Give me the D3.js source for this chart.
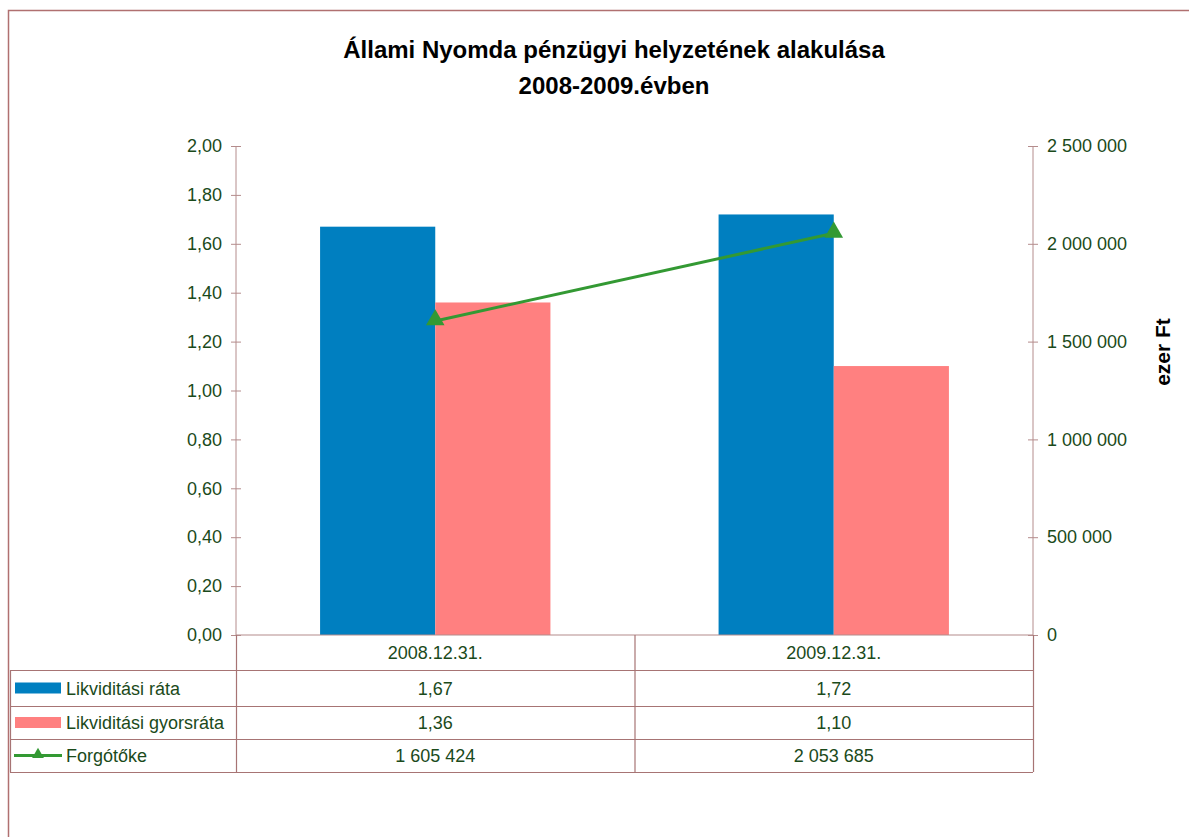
<!DOCTYPE html>
<html>
<head>
<meta charset="utf-8">
<title>Állami Nyomda</title>
<script src="https://cdn.jsdelivr.net/npm/d3@7"></script>
<style>
  body { margin: 0; background: #fff; }
  text { font-family: "Liberation Sans", Arial, sans-serif; }
</style>
</head>
<body>
<script>
// data
var categories = ["2008.12.31.", "2009.12.31."];
var rata = [1.67, 1.72];
var gyorsrata = [1.36, 1.10];
var forgotoke = [1605424, 2053685];
var seriesNames = ["Likviditási ráta", "Likviditási gyorsráta", "Forgótőke"];
var leftTicks = [0, 0.2, 0.4, 0.6, 0.8, 1.0, 1.2, 1.4, 1.6, 1.8, 2.0];
var rightTicks = [0, 500000, 1000000, 1500000, 2000000, 2500000];

var W = 1189, H = 837;
var textCol = "#1b4a1b", lineCol = "#a77474", axisCol = "#b48c8c";
var blue = "#007fc0", pink = "#ff8080", green = "#339933";
var fs = 18;

var loc = d3.formatLocale({decimal: ",", thousands: "\u00a0", grouping: [3], currency: ["", ""]});
var fmt2 = loc.format(".2f"), fmtInt = loc.format(",d");

var svg = d3.select("body").append("svg").attr("width", W).attr("height", H);

// outer frame
svg.append("path").attr("d", "M8.5," + H + "V10.5H" + W)
  .attr("fill", "none").attr("stroke", "#b07070").attr("stroke-width", 1.5);

// title
var title = svg.append("text").attr("x", 614).attr("text-anchor", "middle")
  .attr("font-weight", "bold").attr("font-size", 24).attr("fill", "#000");
title.append("tspan").attr("x", 614).attr("y", 58).text("Állami Nyomda pénzügyi helyzetének alakulása");
title.append("tspan").attr("x", 614).attr("y", 94).text("2008-2009.évben");

var pLeft = 236, pRight = 1033, pTop = 146, pBottom = 635;

var x = d3.scaleBand().domain(categories).range([pLeft, pRight]).paddingInner(0).paddingOuter(0);
var xs = d3.scaleBand().domain([0, 1]).range([0, x.bandwidth()]).paddingOuter(0.73).paddingInner(0);
var yL = d3.scaleLinear().domain([0, 2]).range([pBottom, pTop]);
var yR = d3.scaleLinear().domain([0, 2500000]).range([pBottom, pTop]);

// bars
var g = svg.append("g");
categories.forEach(function(c, i) {
  g.append("rect").attr("x", x(c) + xs(0)).attr("width", xs.bandwidth())
    .attr("y", yL(rata[i])).attr("height", pBottom - yL(rata[i])).attr("fill", blue);
  g.append("rect").attr("x", x(c) + xs(1)).attr("width", xs.bandwidth())
    .attr("y", yL(gyorsrata[i])).attr("height", pBottom - yL(gyorsrata[i])).attr("fill", pink);
});

// left axis
var axL = svg.append("g").attr("transform", "translate(" + pLeft + ",0)")
  .call(d3.axisLeft(yL).tickValues(leftTicks).tickFormat(fmt2).tickSize(5).tickPadding(9));
axL.select(".domain").remove();
axL.append("line").attr("y1", pTop).attr("y2", pBottom).attr("stroke", axisCol);
axL.selectAll(".tick line").attr("x1", -5).attr("x2", 5).attr("stroke", axisCol);
axL.selectAll(".tick text").attr("font-size", fs).attr("fill", textCol)
  .style("font-family", "'Liberation Sans', Arial, sans-serif");

// right axis
var axR = svg.append("g").attr("transform", "translate(" + pRight + ",0)")
  .call(d3.axisRight(yR).tickValues(rightTicks).tickFormat(fmtInt).tickSize(5).tickPadding(9));
axR.select(".domain").remove();
axR.append("line").attr("y1", pTop).attr("y2", pBottom).attr("stroke", axisCol);
axR.selectAll(".tick line").attr("x1", -5).attr("x2", 5).attr("stroke", axisCol);
axR.selectAll(".tick text").attr("font-size", fs).attr("fill", textCol)
  .style("font-family", "'Liberation Sans', Arial, sans-serif");

svg.append("text").attr("transform", "translate(1170,352) rotate(-90)")
  .attr("text-anchor", "middle").attr("font-weight", "bold").attr("font-size", 21)
  .attr("fill", "#000").text("ezer Ft");

// line series
var lineGen = d3.line().x(function(d, i) { return x(categories[i]) + x.bandwidth() / 2; })
  .y(function(d) { return yR(d); });
svg.append("path").datum(forgotoke).attr("d", lineGen)
  .attr("fill", "none").attr("stroke", green).attr("stroke-width", 3);
var tri = d3.symbol().type(d3.symbolTriangle).size(150);
svg.selectAll(".mk").data(forgotoke).enter().append("path")
  .attr("transform", function(d, i) { return "translate(" + (x(categories[i]) + x.bandwidth() / 2) + "," + (yR(d) - 1) + ")"; })
  .attr("d", tri).attr("fill", green);

// data table
var tLeft = 10;
var rowY = [pBottom, 670, 706, 739, 772];
var tg = svg.append("g").attr("stroke", lineCol).attr("stroke-width", 1.2);
tg.append("line").attr("x1", pLeft).attr("x2", pRight).attr("y1", pBottom).attr("y2", pBottom).attr("stroke", axisCol);
[1, 2, 3, 4].forEach(function(r) {
  tg.append("line").attr("x1", tLeft).attr("x2", pRight).attr("y1", rowY[r] + 0.5).attr("y2", rowY[r] + 0.5);
});
tg.append("line").attr("x1", tLeft + 0.5).attr("x2", tLeft + 0.5).attr("y1", rowY[1]).attr("y2", rowY[4]);
[pLeft, x(categories[1]), pRight].forEach(function(xx) {
  tg.append("line").attr("x1", xx + 0.5).attr("x2", xx + 0.5).attr("y1", pBottom).attr("y2", rowY[4]);
});

var rowMid = function(r) { return (rowY[r] + rowY[r + 1]) / 2 + 6.5; };
categories.forEach(function(c, i) {
  var cx = x(c) + x.bandwidth() / 2;
  svg.append("text").attr("x", cx).attr("y", rowMid(0)).attr("text-anchor", "middle")
    .attr("font-size", fs).attr("fill", textCol).text(c);
  svg.append("text").attr("x", cx).attr("y", rowMid(1)).attr("text-anchor", "middle")
    .attr("font-size", fs).attr("fill", textCol).text(fmt2(rata[i]));
  svg.append("text").attr("x", cx).attr("y", rowMid(2)).attr("text-anchor", "middle")
    .attr("font-size", fs).attr("fill", textCol).text(fmt2(gyorsrata[i]));
  svg.append("text").attr("x", cx).attr("y", rowMid(3)).attr("text-anchor", "middle")
    .attr("font-size", fs).attr("fill", textCol).text(fmtInt(forgotoke[i]));
});

// legend keys in table
seriesNames.forEach(function(n, i) {
  var cy = (rowY[i + 1] + rowY[i + 2]) / 2;
  if (i < 2) {
    svg.append("rect").attr("x", 15).attr("y", cy - 5.5).attr("width", 46).attr("height", 11)
      .attr("fill", i === 0 ? blue : pink);
  } else {
    svg.append("line").attr("x1", 14).attr("x2", 62).attr("y1", cy).attr("y2", cy)
      .attr("stroke", green).attr("stroke-width", 3);
    svg.append("path").attr("transform", "translate(38," + (cy - 1) + ")")
      .attr("d", d3.symbol().type(d3.symbolTriangle).size(60)).attr("fill", green);
  }
  svg.append("text").attr("x", 66).attr("y", cy + 6.5).attr("font-size", fs)
    .attr("fill", textCol).text(n);
});
</script>
</body>
</html>
